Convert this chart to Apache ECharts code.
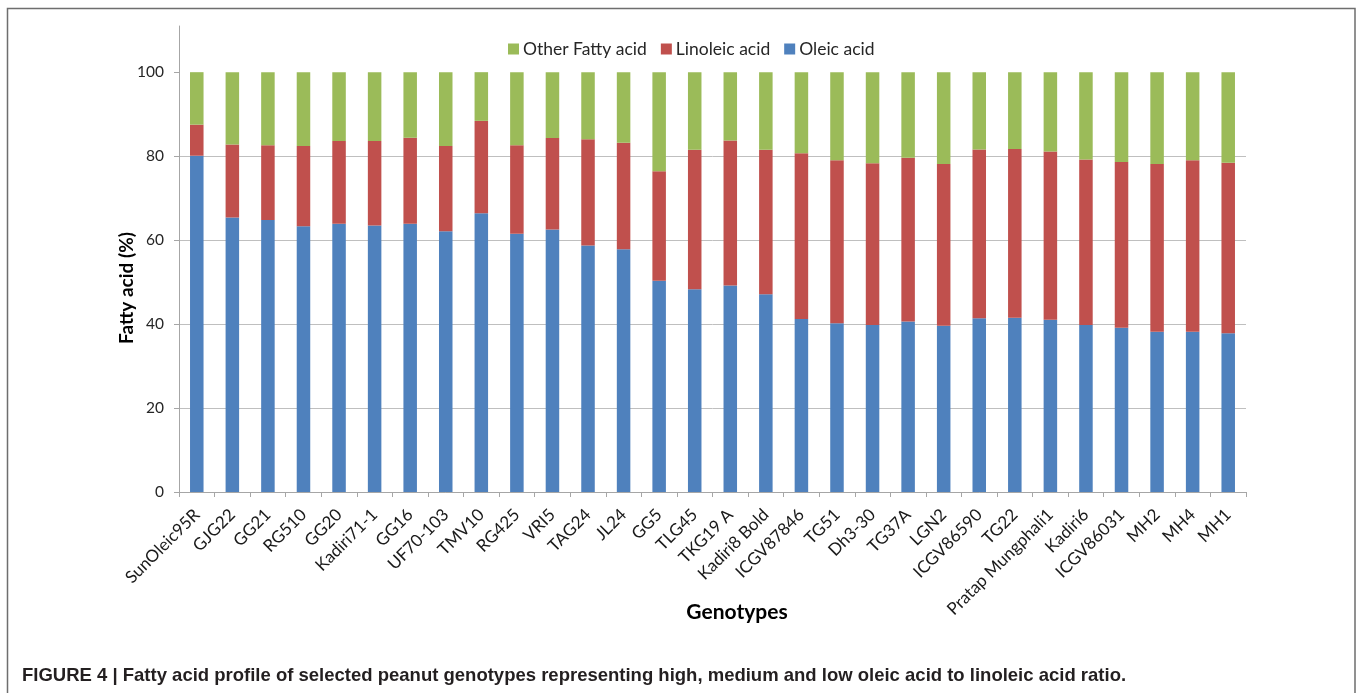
<!DOCTYPE html>
<html>
<head>
<meta charset="utf-8">
<title>Fatty acid profile of peanut genotypes</title>
<script src="https://cdn.jsdelivr.net/npm/echarts@6/dist/echarts.min.js"></script>
<style>
  html, body { margin: 0; padding: 0; background: #fff; }
  #chart { width: 1357px; height: 693px; }
</style>
</head>
<body>
<div id="chart"></div>
<script>
// Genotypes, ordered from high to low oleic/linoleic ratio
const genotypes = [
  'SunOleic95R', 'GJG22', 'GG21', 'RG510', 'GG20', 'Kadiri71-1', 'GG16', 'UF70-103',
  'TMV10', 'RG425', 'VRI5', 'TAG24', 'JL24', 'GG5', 'TLG45', 'TKG19 A', 'Kadiri8 Bold',
  'ICGV87846', 'TG51', 'Dh3-30', 'TG37A', 'LGN2', 'ICGV86590', 'TG22',
  'Pratap Mungphali1', 'Kadiri6', 'ICGV86031', 'MH2', 'MH4', 'MH1'
];

// Fatty acid composition (%) per genotype
const oleic = [
  80.1, 65.4, 64.8, 63.3, 63.9, 63.5, 63.9, 62.1, 66.4, 61.5,
  62.5, 58.7, 57.8, 50.3, 48.3, 49.2, 47.1, 41.2, 40.2, 39.8,
  40.6, 39.6, 41.4, 41.5, 41.0, 39.8, 39.1, 38.2, 38.2, 37.8
];
const linoleic = [
  7.4, 17.4, 17.8, 19.1, 19.7, 20.1, 20.5, 20.3, 22.0, 21.1,
  21.8, 25.3, 25.4, 26.1, 33.2, 34.5, 34.4, 39.5, 38.8, 38.5,
  39.0, 38.5, 40.2, 40.2, 40.1, 39.4, 39.5, 39.9, 40.8, 40.6
];
const otherFattyAcid = [
  12.5, 17.2, 17.4, 17.6, 16.4, 16.4, 15.6, 17.6, 11.6, 17.4,
  15.7, 16.0, 16.8, 23.6, 18.5, 16.3, 18.5, 19.3, 21.0, 21.7,
  20.4, 21.9, 18.4, 18.3, 18.9, 20.8, 21.4, 21.9, 21.0, 21.6
];

// Value axis tick labels
const yTicks = [0, 20, 40, 60, 80, 100];

const FONT = 'Lato, "Open Sans", "DejaVu Sans", sans-serif';
const COLORS = { oleic: '#4F81BD', linoleic: '#C0504D', other: '#9BBB59' };

const chart = echarts.init(document.getElementById('chart'), null, { renderer: 'canvas' });

chart.setOption({
  animation: false,
  backgroundColor: '#ffffff',
  grid: { left: 179, right: 111, top: 26, bottom: 201, containLabel: false },
  legend: {
    data: ['Other Fatty acid', 'Linoleic acid', 'Oleic acid'],
    left: 503,
    top: 35,
    itemWidth: 11,
    itemHeight: 11,
    itemGap: 14,
    icon: 'rect',
    textStyle: { fontFamily: FONT, fontSize: 17.5, color: '#262626', padding: [0, 0, 0, -1] }
  },
  xAxis: {
    type: 'category',
    data: genotypes,
    boundaryGap: true,
    axisLine: { lineStyle: { color: '#a6a6a6', width: 1 } },
    axisTick: { show: true, alignWithLabel: false, length: 5, lineStyle: { color: '#a6a6a6' } },
    axisLabel: {
      interval: 0,
      rotate: 45,
      margin: 20,
      fontFamily: FONT,
      fontSize: 17,
      color: '#1a1a1a'
    },
    splitLine: { show: false }
  },
  yAxis: {
    type: 'value',
    min: 0,
    max: 111,
    interval: 20,
    axisLine: { show: true, lineStyle: { color: '#a6a6a6', width: 1 } },
    axisTick: { show: true, length: 5, inside: false, customValues: yTicks, lineStyle: { color: '#a6a6a6' } },
    axisLabel: {
      customValues: yTicks,
      margin: 15,
      fontFamily: FONT,
      fontSize: 15.5,
      color: '#262626'
    },
    splitLine: { show: true, showMaxLine: false, lineStyle: { color: '#bfbfbf', width: 1 } }
  },
  series: [
    {
      name: 'Oleic acid', type: 'bar', stack: 'fa', data: oleic,
      barWidth: '38%', itemStyle: { color: COLORS.oleic }
    },
    {
      name: 'Linoleic acid', type: 'bar', stack: 'fa', data: linoleic,
      barWidth: '38%', itemStyle: { color: COLORS.linoleic }
    },
    {
      name: 'Other Fatty acid', type: 'bar', stack: 'fa', data: otherFattyAcid,
      barWidth: '38%', itemStyle: { color: COLORS.other }
    }
  ],
  graphic: [
    // Figure frame
    {
      type: 'rect', silent: true, z: -1,
      shape: { x: 7.5, y: 8.5, width: 1347.5, height: 700 },
      style: { fill: 'none', stroke: '#6e6e6e', lineWidth: 1.5 }
    },
    // Axis titles
    {
      type: 'text', x: 127, y: 288, rotation: Math.PI / 2,
      style: {
        text: 'Fatty acid (%)', fontFamily: FONT, fontWeight: 'bold', fontSize: 19,
        fill: '#000', align: 'center', verticalAlign: 'middle'
      }
    },
    {
      type: 'text', x: 737, y: 612,
      style: {
        text: 'Genotypes', fontFamily: FONT, fontWeight: 'bold', fontSize: 21,
        fill: '#000', align: 'center', verticalAlign: 'middle'
      }
    },
    // Caption
    {
      type: 'text', x: 22, y: 676,
      style: {
        text: 'FIGURE 4 | Fatty acid profile of selected peanut genotypes representing high, medium and low oleic acid to linoleic acid ratio.',
        fontFamily: '"Liberation Sans", Arial, sans-serif',
        fontWeight: 'bold', fontSize: 18.5, fill: '#231f20',
        align: 'left', verticalAlign: 'middle'
      }
    }
  ]
});
</script>
</body>
</html>
